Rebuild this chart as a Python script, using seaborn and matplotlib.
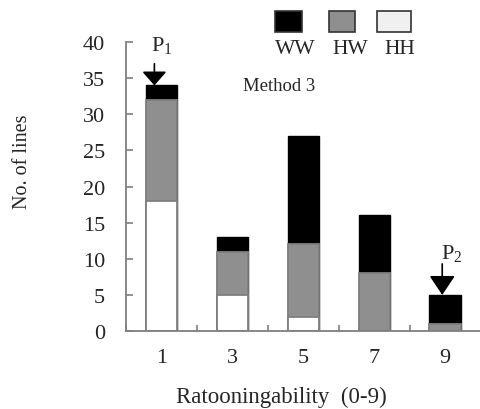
import numpy as np
import pandas as pd
import matplotlib
matplotlib.use('Agg')
import matplotlib.pyplot as plt
import seaborn as sns
from matplotlib.patches import Rectangle
from matplotlib.ticker import MultipleLocator

# dados
classes = ['1', '3', '5', '7', '9']
hh = [18, 5, 2, 0, 0]
hw = [14, 6, 10, 8, 1]
ww = [2, 2, 15, 8, 4]
legend_labels = ['WW', 'HW', 'HH']
yticks = [0, 5, 10, 15, 20, 25, 30, 35, 40]

df = pd.DataFrame({'classe': classes, 'HH': hh, 'HW': hw, 'WW': ww})
df['HH_HW'] = df['HH'] + df['HW']
df['total'] = df['HH_HW'] + df['WW']

sns.set_style('ticks')
plt.rcParams['font.family'] = ['Liberation Serif', 'DejaVu Serif']
plt.rcParams['mathtext.fontset'] = 'custom'
plt.rcParams['mathtext.rm'] = 'Liberation Serif'
plt.rcParams['mathtext.it'] = 'Liberation Serif:italic'

cinza = '#8f8f8f'
borda = '#7f7f7f'

fig = plt.figure(figsize=(4.81, 4.10), dpi=100)
ax = fig.add_axes([0.262, 0.19, 0.737, 0.705])

# barras empilhadas: desenha o total primeiro e depois as partes de baixo
sns.barplot(data=df, x='classe', y='total', order=classes, color='black',
            width=0.44, saturation=1, edgecolor='black', linewidth=1.0, ax=ax)
sns.barplot(data=df, x='classe', y='HH_HW', order=classes, color=cinza,
            width=0.44, saturation=1, edgecolor=borda, linewidth=1.3, ax=ax)
sns.barplot(data=df, x='classe', y='HH', order=classes, color='white',
            width=0.44, saturation=1, edgecolor=borda, linewidth=1.3, ax=ax)

ax.set_xlim(-0.5, 4.5)
ax.set_ylim(0, 40)
ax.set_yticks(yticks)
ax.xaxis.set_minor_locator(MultipleLocator(1, offset=0.5))
ax.tick_params(axis='y', direction='in', length=5, width=1.2, color=borda,
               labelsize=16, pad=15)
ax.tick_params(axis='x', which='major', length=0, labelsize=16, pad=12)
ax.tick_params(axis='x', which='minor', direction='in', length=4, width=1.2,
               color=borda)
sns.despine(ax=ax)
for s in ['left', 'bottom']:
    ax.spines[s].set_color(borda)
    ax.spines[s].set_linewidth(1.3)

ax.set_xlabel('Ratooningability  (0-9)', fontsize=16.5)
ax.xaxis.set_label_coords(0.438, -0.19)
ax.set_ylabel('No. of lines', fontsize=14.5)
ax.yaxis.set_label_coords(-0.265, 0.588)

# setas P1 e P2
ax.annotate('', xy=(-0.1, df['total'][0]), xytext=(-0.1, 37.0),
            arrowprops=dict(arrowstyle='-|>,head_length=0.85,head_width=0.75',
                            mutation_scale=10, color='black', lw=1.2,
                            shrinkA=0, shrinkB=0))
ax.text(0.0, 39.7, r'$\mathrm{P_1}$', ha='center', va='center', fontsize=16)
ax.annotate('', xy=(3.96, df['total'][4]), xytext=(3.96, 9.3),
            arrowprops=dict(arrowstyle='-|>,head_length=1.2,head_width=0.8',
                            mutation_scale=10, color='black', lw=1.2,
                            shrinkA=0, shrinkB=0))
ax.text(4.1, 10.9, r'$\mathrm{P_2}$', ha='center', va='center', fontsize=16)

ax.text(1.66, 34.0, 'Method 3', ha='center', va='center', fontsize=13.5)

# legenda com texto abaixo das caixas
caixas = [(275, 302, 'black'), (329, 355, cinza), (377, 411, '#f0f0f0')]
centros = [295, 350, 400]
for (x0, x1, cor), cx, lab in zip(caixas, centros, legend_labels):
    fig.add_artist(Rectangle((x0 / 481, 1 - 33 / 410), (x1 - x0) / 481, 21 / 410,
                             transform=fig.transFigure, facecolor=cor,
                             edgecolor='#333333', linewidth=1.2))
    fig.text(cx / 481, 1 - 50 / 410, lab, ha='center', va='center', fontsize=15.5)

fig.savefig('out.png', dpi=100)
